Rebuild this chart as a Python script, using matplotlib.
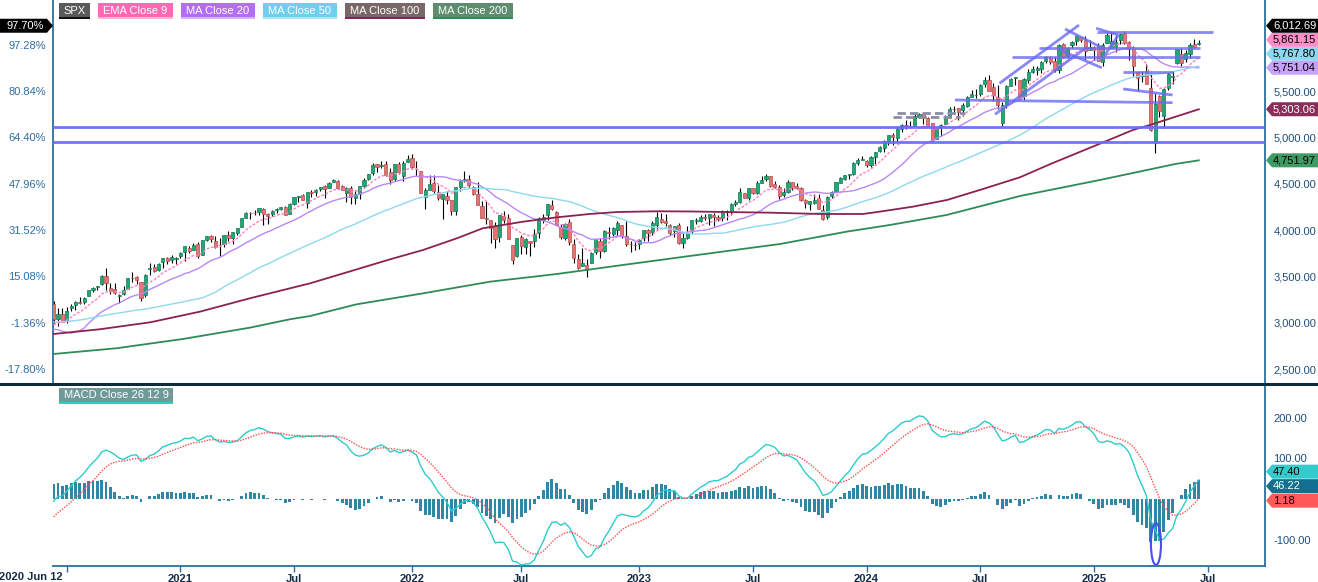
import numpy as np
import pandas as pd
import matplotlib
matplotlib.use('Agg')
from matplotlib import pyplot as plt
from matplotlib.patches import Polygon, Ellipse, Rectangle
from matplotlib.lines import Line2D

plt.rcParams['font.family'] = ['Liberation Sans', 'DejaVu Sans']

W, H = 1318, 582

# weekly closes before the first shown bar (Jun 2019 - Jun 5 2020), only used to seed the averages
pre_closes = [
    2873.3, 2887.0, 2950.5, 2941.8, 2990.4, 3013.8, 2976.6, 3025.9, 2932.1, 2918.7,
    2888.7, 2847.1, 2926.5, 2978.7, 3007.4, 2992.1, 2961.8, 2952.0, 2970.3, 2986.2,
    3022.6, 3066.9, 3093.1, 3120.5, 3110.3, 3141.0, 3145.9, 3168.8, 3221.2, 3240.0,
    3234.9, 3265.4, 3329.6, 3295.5, 3225.5, 3327.7, 3380.2, 3337.8, 2954.2, 2972.4,
    2711.0, 2304.9, 2541.5, 2488.7, 2789.8, 2874.6, 2836.7, 2830.7, 2929.8, 2863.7,
    2955.5, 3044.3, 3193.9,
]

# SPX weekly bars, week of 2020-06-12 to week of 2025-06-20
opens = [
    # 2020
    3199.9, 3038.8, 3094.4, 3018.6, 3155.3, 3191.8, 3224.3, 3219.8, 3288.3, 3356.0,
    3380.9, 3418.1, 3507.4, 3370.3, 3363.6, 3285.6, 3313.7, 3367.3, 3484.3, 3493.5,
    3441.4, 3296.2, 3583.0, 3600.2, 3566.8, 3653.8, 3694.7, 3675.3, 3684.3, 3723.0,
    # 2021
    3764.6, 3803.1, 3788.4, 3851.9, 3731.2, 3892.6, 3939.6, 3885.6, 3842.5, 3844.4,
    3949.6, 3916.5, 3969.3, 4034.4, 4130.1, 4183.2, 4185.1, 4191.9, 4228.3, 4169.9,
    4170.2, 4216.5, 4229.3, 4248.9, 4173.4, 4284.9, 4356.5, 4372.4, 4296.4, 4409.6,
    4406.9, 4438.2, 4472.9, 4450.3, 4513.8, 4532.4, 4474.8, 4402.9, 4449.4, 4348.8,
    4385.4, 4471.4, 4553.7, 4610.6, 4707.3, 4689.3, 4712.0, 4628.8, 4548.4, 4710.3,
    4587.9, 4733.9,
    # 2022
    4778.1, 4655.3, 4632.2, 4356.3, 4431.8, 4505.8, 4412.6, 4332.7, 4363.1, 4322.6,
    4202.8, 4462.4, 4541.1, 4547.0, 4462.6, 4385.6, 4255.3, 4130.6, 4108.4, 4041.6,
    3919.4, 4151.1, 4134.7, 3838.2, 3715.3, 3920.8, 3815.1, 3880.9, 3883.8, 3965.7,
    4112.4, 4158.2, 4269.4, 4195.1, 4034.6, 3909.4, 4083.7, 3849.9, 3682.7, 3609.8,
    3619.0, 3638.7, 3758.1, 3881.9, 3777.4, 3977.9, 3956.2, 4005.4, 4052.0, 3939.0,
    3853.8, 3843.3,
    # 2023
    3853.3, 3910.8, 3999.3, 3978.1, 4049.3, 4122.0, 4096.6, 4052.4, 3992.4, 4055.2,
    3855.8, 3917.5, 3986.4, 4102.2, 4098.0, 4137.2, 4134.2, 4166.8, 4136.0, 4126.7,
    4190.8, 4205.5, 4282.9, 4304.6, 4396.1, 4344.8, 4450.5, 4394.0, 4508.7, 4548.0,
    4584.8, 4491.6, 4459.4, 4380.3, 4415.2, 4518.4, 4473.3, 4453.5, 4326.0, 4284.5,
    4289.0, 4342.4, 4217.0, 4139.4, 4364.3, 4406.7, 4511.7, 4554.9, 4593.4, 4607.6,
    4725.6, 4758.9,
    # 2024
    4745.2, 4703.7, 4791.2, 4856.8, 4888.9, 4957.2, 5026.8, 4989.3, 5093.0, 5130.9,
    5117.9, 5123.0, 5219.5, 5257.2, 5211.4, 5149.7, 4987.3, 5114.1, 5142.4, 5221.1,
    5305.4, 5315.9, 5297.2, 5341.2, 5432.7, 5459.6, 5471.1, 5572.9, 5615.4, 5544.0,
    5433.7, 5151.1, 5351.0, 5557.2, 5637.0, 5623.9, 5442.1, 5615.2, 5703.4, 5726.5,
    5737.8, 5820.3, 5857.8, 5826.8, 5725.2, 6008.9, 5874.2, 5992.3, 6040.1, 6083.2,
    6049.0, 5940.3,
    # 2025
    5970.3, 5982.8, 5811.0, 6014.1, 5969.0, 5969.7, 6046.4, 6121.6, 6026.7, 5968.3,
    5705.4, 5658.0, 5718.1, 5527.9, 4953.8, 5441.0, 5232.9, 5534.5, 5655.3, 5807.0,
    5902.8, 5842.3, 5896.7, 6004.6, 6004.0,
]
highs = [
    # 2020
    3233.1, 3155.5, 3155.5, 3165.8, 3198.4, 3238.3, 3279.3, 3272.0, 3352.5, 3387.9,
    3399.9, 3509.2, 3588.1, 3425.6, 3428.9, 3306.9, 3397.2, 3482.3, 3549.9, 3502.4,
    3441.4, 3529.9, 3645.9, 3628.5, 3644.3, 3699.2, 3712.4, 3726.7, 3711.2, 3760.2,
    # 2021
    3826.7, 3823.6, 3861.5, 3870.9, 3894.6, 3937.2, 3950.4, 3933.0, 3914.5, 3944.0,
    3983.9, 3978.2, 4020.6, 4129.5, 4191.3, 4194.2, 4218.8, 4238.0, 4236.4, 4188.7,
    4213.4, 4234.1, 4249.7, 4261.7, 4286.1, 4355.4, 4372.0, 4393.7, 4415.2, 4429.2,
    4440.8, 4468.0, 4480.3, 4513.3, 4545.9, 4541.5, 4486.5, 4465.4, 4475.8, 4429.0,
    4475.8, 4559.7, 4608.1, 4718.5, 4714.9, 4743.8, 4744.1, 4672.9, 4713.6, 4731.4,
    4740.7, 4808.9,
    # 2022
    4818.6, 4748.8, 4632.2, 4453.2, 4595.3, 4590.0, 4489.6, 4385.7, 4416.8, 4325.6,
    4465.4, 4546.0, 4637.3, 4593.5, 4471.0, 4512.9, 4308.5, 4307.7, 4111.2, 4090.7,
    4158.5, 4204.3, 4168.8, 3838.2, 3913.7, 3945.9, 3918.5, 3880.9, 4012.4, 4140.2,
    4167.7, 4280.5, 4325.3, 4203.0, 4062.0, 4076.8, 4119.3, 3907.1, 3736.7, 3806.9,
    3685.4, 3762.8, 3905.4, 3911.8, 4001.5, 4028.8, 4034.0, 4100.5, 4052.5, 4100.9,
    3876.6, 3874.3,
    # 2023
    3906.2, 4003.0, 4015.4, 4094.2, 4195.4, 4182.2, 4171.8, 4062.9, 4048.3, 4078.5,
    3964.5, 4039.5, 4110.8, 4133.1, 4163.2, 4169.5, 4170.1, 4186.9, 4166.3, 4212.9,
    4212.2, 4290.7, 4322.6, 4448.5, 4400.2, 4458.5, 4456.5, 4527.6, 4578.4, 4607.1,
    4584.8, 4527.4, 4490.3, 4458.3, 4541.3, 4518.5, 4511.0, 4464.5, 4338.5, 4317.3,
    4385.5, 4393.6, 4268.0, 4366.2, 4418.0, 4520.1, 4568.4, 4598.5, 4609.2, 4738.6,
    4778.0, 4793.3,
    # 2024
    4754.3, 4798.5, 4842.1, 4906.7, 4975.3, 5030.1, 5048.4, 5111.1, 5140.3, 5189.3,
    5179.1, 5261.1, 5264.9, 5263.0, 5222.0, 5149.7, 5114.6, 5139.1, 5239.7, 5325.5,
    5341.9, 5315.9, 5375.1, 5447.3, 5505.5, 5523.6, 5570.3, 5655.6, 5669.7, 5585.2,
    5566.2, 5380.0, 5563.1, 5643.2, 5651.6, 5623.9, 5636.3, 5733.6, 5767.4, 5765.1,
    5822.1, 5878.5, 5878.2, 5862.8, 6012.5, 6017.3, 5972.9, 6044.2, 6099.0, 6085.2,
    6090.4, 6049.8,
    # 2025
    5980.5, 6021.0, 6014.8, 6128.2, 6120.9, 6101.3, 6127.5, 6147.4, 6043.6, 5986.1,
    5705.4, 5715.3, 5786.9, 5695.3, 5481.3, 5459.5, 5528.1, 5700.5, 5720.1, 5958.6,
    5968.6, 5944.0, 6016.9, 6059.4, 6050.8,
]
lows = [
    # 2020
    2999.5, 2965.7, 3004.6, 3000.5, 3127.7, 3142.0, 3202.3, 3200.0, 3284.5, 3329.3,
    3354.7, 3410.0, 3349.6, 3310.0, 3313.6, 3209.5, 3297.1, 3361.0, 3440.5, 3419.9,
    3233.9, 3279.7, 3511.9, 3543.8, 3554.0, 3594.4, 3633.4, 3645.8, 3636.5, 3695.1,
    # 2021
    3662.7, 3749.6, 3784.9, 3694.1, 3725.6, 3884.9, 3865.7, 3805.6, 3723.3, 3819.3,
    3885.9, 3853.5, 3944.4, 4034.4, 4124.4, 4118.4, 4164.7, 4160.9, 4056.9, 4061.4,
    4156.2, 4188.0, 4220.3, 4164.4, 4173.4, 4271.0, 4300.3, 4321.1, 4233.1, 4360.0,
    4367.7, 4420.2, 4347.5, 4450.3, 4513.0, 4457.6, 4428.3, 4305.9, 4279.3, 4278.9,
    4329.6, 4456.8, 4537.4, 4595.1, 4630.9, 4672.0, 4585.4, 4495.1, 4531.1, 4600.2,
    4531.1, 4733.9,
    # 2022
    4662.7, 4582.2, 4395.3, 4222.6, 4431.8, 4401.4, 4327.2, 4114.7, 4279.5, 4157.9,
    4161.7, 4424.3, 4517.7, 4450.3, 4381.3, 4267.6, 4128.7, 4062.5, 3858.9, 3810.3,
    3875.1, 4074.4, 3900.2, 3636.9, 3705.7, 3738.7, 3742.1, 3721.6, 3818.6, 3910.7,
    4079.8, 4112.1, 4218.7, 4057.7, 3906.2, 3886.8, 3837.1, 3647.5, 3584.1, 3609.8,
    3491.6, 3638.7, 3737.5, 3698.2, 3764.5, 3906.5, 3930.0, 3940.1, 3918.4, 3827.1,
    3764.5, 3783.0,
    # 2023
    3794.3, 3877.3, 3885.5, 3949.1, 4015.6, 4079.0, 4047.5, 3943.0, 3928.2, 3846.3,
    3808.9, 3901.9, 3951.5, 4069.8, 4086.9, 4113.2, 4049.4, 4048.3, 4098.7, 4099.4,
    4103.9, 4166.2, 4261.1, 4290.6, 4341.1, 4328.1, 4385.1, 4389.9, 4504.1, 4527.6,
    4463.6, 4458.3, 4335.3, 4356.3, 4403.4, 4432.0, 4446.4, 4316.5, 4238.6, 4216.5,
    4283.8, 4223.0, 4103.8, 4116.5, 4347.0, 4406.0, 4507.1, 4537.2, 4546.5, 4597.4,
    4699.4, 4751.0,
    # 2024
    4682.1, 4682.1, 4714.8, 4844.1, 4845.2, 4918.1, 4920.3, 4946.0, 5056.8, 5094.6,
    5104.4, 5117.5, 5203.4, 5146.1, 5107.9, 4953.6, 4987.3, 5011.1, 5142.4, 5211.2,
    5256.9, 5191.7, 5234.3, 5331.0, 5432.4, 5420.6, 5446.3, 5540.9, 5497.0, 5390.9,
    5305.2, 5119.3, 5318.3, 5553.5, 5560.3, 5402.6, 5406.9, 5581.2, 5698.7, 5674.0,
    5696.3, 5804.3, 5796.7, 5702.8, 5696.5, 5853.0, 5853.0, 5963.9, 6000.0, 6026.0,
    5832.3, 5940.3,
    # 2025
    5829.5, 5825.3, 5773.3, 6014.1, 5962.9, 5923.9, 6003.0, 6008.6, 5837.7, 5666.3,
    5504.7, 5597.8, 5572.4, 5069.9, 4835.0, 5220.8, 5101.6, 5506.8, 5578.6, 5786.1,
    5767.4, 5809.8, 5861.4, 5963.2, 5995.0,
]
closes = [
    # 2020
    3041.31, 3097.7, 3009.1, 3130.0, 3185.0, 3224.7, 3215.6, 3271.1, 3351.3, 3372.9,
    3397.2, 3508.0, 3427.0, 3341.0, 3319.5, 3298.5, 3348.4, 3477.1, 3483.8, 3465.4,
    3270.0, 3509.4, 3585.2, 3557.5, 3638.4, 3699.1, 3663.5, 3709.4, 3703.1, 3756.1,
    # 2021
    3824.7, 3768.3, 3841.5, 3714.2, 3886.8, 3934.8, 3906.7, 3811.2, 3841.9, 3943.3,
    3913.1, 3974.5, 4019.9, 4128.8, 4185.5, 4180.2, 4181.2, 4232.6, 4173.9, 4155.9,
    4204.1, 4229.9, 4247.4, 4166.5, 4280.7, 4352.3, 4369.6, 4327.2, 4411.8, 4395.3,
    4436.5, 4468.0, 4441.7, 4509.4, 4535.4, 4458.6, 4433.0, 4455.5, 4357.0, 4391.3,
    4471.4, 4544.9, 4605.4, 4697.5, 4682.9, 4698.0, 4594.6, 4538.4, 4712.0, 4620.6,
    4725.8, 4766.2,
    # 2022
    4677.0, 4662.9, 4397.9, 4431.9, 4500.5, 4418.6, 4348.9, 4384.7, 4328.9, 4204.3,
    4463.1, 4543.1, 4545.9, 4488.3, 4392.6, 4271.8, 4131.9, 4123.3, 4023.9, 3901.4,
    4158.2, 4108.5, 3900.9, 3674.8, 3911.7, 3825.3, 3899.4, 3863.2, 3961.6, 4130.3,
    4145.2, 4280.2, 4228.5, 4057.7, 3924.3, 4067.4, 3873.3, 3693.2, 3585.6, 3639.7,
    3583.1, 3752.8, 3901.1, 3770.6, 3992.9, 3965.3, 4026.1, 4071.7, 3934.4, 3852.4,
    3844.8, 3839.5,
    # 2023
    3895.1, 3999.1, 3972.6, 4070.6, 4136.5, 4090.5, 4079.1, 3970.0, 4045.6, 3861.6,
    3916.6, 3971.0, 4109.3, 4105.0, 4137.6, 4133.5, 4169.5, 4136.3, 4124.1, 4192.0,
    4205.5, 4282.4, 4298.9, 4409.6, 4348.3, 4450.4, 4399.0, 4505.4, 4536.3, 4582.2,
    4478.0, 4464.1, 4369.7, 4405.7, 4515.8, 4457.5, 4450.3, 4320.1, 4288.1, 4308.5,
    4327.8, 4224.2, 4117.4, 4358.3, 4415.2, 4514.0, 4559.3, 4594.6, 4604.4, 4719.2,
    4754.6, 4769.8,
    # 2024
    4697.2, 4783.8, 4839.8, 4891.0, 4958.6, 5026.6, 5005.6, 5088.8, 5137.1, 5123.7,
    5117.1, 5234.2, 5254.4, 5204.3, 5123.4, 4967.2, 5100.0, 5127.8, 5222.7, 5303.3,
    5304.7, 5277.5, 5347.0, 5431.6, 5464.6, 5460.5, 5567.2, 5615.4, 5505.0, 5459.1,
    5346.6, 5344.2, 5554.3, 5634.6, 5648.4, 5408.4, 5626.0, 5702.6, 5738.2, 5751.1,
    5815.0, 5864.7, 5808.1, 5728.8, 5995.5, 5870.6, 5969.3, 6032.4, 6090.3, 6051.1,
    5930.9, 5970.8,
    # 2025
    5942.5, 5827.0, 5996.7, 6101.2, 6040.5, 6026.0, 6114.6, 6013.1, 5954.5, 5770.2,
    5638.9, 5667.6, 5580.9, 5074.1, 5363.4, 5282.7, 5525.2, 5686.7, 5659.9, 5958.4,
    5802.8, 5911.7, 6000.4, 5977.0, 6012.69,
]

# long averages (bar number, price)
ma100_bar = [0, 10.6, 22.1, 33.5, 44.9, 58.7, 69.4, 77.0, 84.5, 92.3, 98.2, 107.4, 115.2,
             122.7, 128.9, 138.0, 145.6, 163.9, 175.3, 185.2, 189.0, 196.6, 204.4, 211.9,
             221.1, 227.9, 239.4, 246.9, 250.8, 262]
ma100_val = [2878, 2929, 3004, 3119, 3263, 3425, 3576, 3684, 3784, 3911, 4019, 4090, 4137,
             4173, 4194, 4202, 4200, 4187, 4173, 4173, 4198, 4252, 4324, 4432,
             4569, 4709, 4932, 5079, 5133, 5303.06]
ma200_bar = [0, 14.4, 29.6, 44.9, 54.1, 58.7, 69.3, 84.6, 99.8, 115.1, 130.3, 145.6, 166.2,
             181.4, 191.3, 204.3, 221.1, 239.4, 256.6, 262]
ma200_val = [2662, 2724, 2824, 2946, 3037, 3072, 3198, 3317, 3442, 3525, 3623, 3720, 3849,
             3982, 4054, 4162, 4367, 4540, 4712, 4751.97]

# drawn support / resistance levels and trend lines (bar number, price)
levels = [5114.8, 4952.9]
seg_x0 = [216.4, 215.4, 231.4, 230.2, 238.5, 240.5, 238.6, 225.5, 219.3, 244.7, 244.7, 206.2]
seg_y0 = [5583, 5249, 6169, 5942, 6177, 5888, 6140, 5961, 5870, 5708, 5522, 5403]
seg_x1 = [234.6, 236.4, 240.1, 239.8, 243.6, 243.6, 265.2, 262.3, 262.3, 256.1, 256.0, 256.0]
seg_y1 = [6212, 5972, 5961, 5751, 6104, 6104, 6140, 5961, 5870, 5708, 5457, 5374]
dash_x0 = [192.0, 192.9]
dash_x1 = [207.4, 208.5]
dash_y = [5222.7, 5265.8]
circle_bar, circle_val = 252.2, -110.6

n = len(closes)
x = np.arange(n)
dates = pd.date_range('2020-06-12', periods=n + 3, freq='W-FRI')

allc = pd.Series(pre_closes + closes)
npre = len(pre_closes)
ema9 = allc.ewm(span=9, adjust=False).mean().values[npre:]
ma20 = allc.rolling(20).mean().values[npre:]
ma50 = allc.rolling(50).mean().values[npre:]
macd_s = allc.ewm(span=12, adjust=False).mean() - allc.ewm(span=26, adjust=False).mean()
sig_s = macd_s.ewm(span=9, adjust=False).mean()
macd = macd_s.values[npre:]
signal = sig_s.values[npre:]
hist = macd - signal

o = np.array(opens)
c = np.array(closes)
hi = np.array(highs)
lo = np.array(lows)
up = c >= o


def fx(px):
    return px / W


def fy(py):
    return 1 - py / H


fig = plt.figure(figsize=(W / 100, H / 100), dpi=100)
ax = fig.add_axes([fx(53), fy(383), (1265 - 53) / W, 383 / H])
axl = ax.twinx()
axm = fig.add_axes([fx(53), fy(566), (1265 - 53) / W, (566 - 385) / H])
xlim = ((53 - 53.6) / 4.371, (1265 - 53.6) / 4.371)
axis_col = '#2c6f9c'

# ---- price panel
ax.vlines(x, lo, hi, color='black', lw=0.8, zorder=3)
body = np.maximum(np.abs(c - o), 1.0)
ax.bar(x[up], body[up], bottom=np.minimum(o, c)[up], width=0.72,
       color='#1fa774', edgecolor='#137a52', lw=0.5, zorder=4)
ax.bar(x[~up], body[~up], bottom=np.minimum(o, c)[~up], width=0.72,
       color='#e37474', edgecolor='#b84d4d', lw=0.5, zorder=4)

ax.plot(x, ema9, color='#ff80c0', lw=1.0, ls=(0, (2, 1.2)), zorder=5)
ax.plot(x, ma20, color='#b987f7', lw=1.0, zorder=5)
ax.plot(x, ma50, color='#8ed8f0', lw=1.0, zorder=5)
ax.plot(ma100_bar, ma100_val, color='#8b2252', lw=1.3, zorder=5)
ax.plot(ma200_bar, ma200_val, color='#2e8b57', lw=1.3, zorder=5)

for lv in levels:
    ax.axhline(lv, color='#6b6bf5', lw=2.0, alpha=0.95, zorder=6)
for a, b, cc, d in zip(seg_x0, seg_y0, seg_x1, seg_y1):
    ax.plot([a, cc], [b, d], color='#6b6bf5', lw=2.0, alpha=0.8, zorder=6,
            solid_capstyle='butt')
for a, b, yy in zip(dash_x0, dash_x1, dash_y):
    ax.plot([a, b], [yy, yy], color='#8c8ca8', lw=2.0, ls=(0, (3, 1.5)), zorder=6)

ax.set_xlim(xlim)
ax.set_ylim(2349, 6482)
ax.set_xticks([])
ax.yaxis.tick_right()
ax.set_yticks([2500, 3000, 3500, 4000, 4500, 5000, 5500])
ax.set_yticklabels([f'{v:,.2f}' for v in ax.get_yticks()])
ax.tick_params(axis='y', length=0, pad=6, labelsize=8, labelcolor='#1d4f7c')
for s in ['top', 'bottom']:
    ax.spines[s].set_visible(False)
for s in ['left', 'right']:
    ax.spines[s].set_color(axis_col)
    ax.spines[s].set_linewidth(1.3)

base = closes[0]
axl.set_ylim(ax.get_ylim())
axl.yaxis.tick_left()
pct_ticks = [2500, 3000, 3500, 4000, 4500, 5000, 5500, 6000]
axl.set_yticks(pct_ticks)
axl.set_yticklabels([f'{(v / base - 1) * 100:.2f}%' for v in pct_ticks])
axl.tick_params(axis='y', length=0, pad=5, labelsize=8, labelcolor='#2e6da4')
for s in axl.spines.values():
    s.set_visible(False)

# ---- MACD panel
axm.bar(x, hist, width=0.65, color='#2f87a4', zorder=3)
axm.plot(x, macd, color='#2ecbcb', lw=1.0, zorder=4)
axm.plot(x, signal, color='#ff4d4d', lw=1.0, ls=(0, (1, 1)), zorder=4)
axm.add_patch(Ellipse((circle_bar, circle_val), 2.3, 103, fill=False,
                      ec='#4d4df2', lw=1.5, zorder=6, clip_on=False))
axm.set_xlim(xlim)
axm.set_ylim(-164.7, 280.3)
axm.yaxis.tick_right()
axm.set_yticks([-100, 100, 200])
axm.set_yticklabels([f'{v:.2f}' for v in [-100, 100, 200]])
axm.tick_params(axis='y', length=0, pad=6, labelsize=8, labelcolor='#1d4f7c')

tick_pos, tick_lab = [], []
for i in range(1, len(dates)):
    if dates[i].month != dates[i - 1].month and dates[i].month in (1, 7):
        tick_pos.append(i)
        tick_lab.append(str(dates[i].year) if dates[i].month == 1 else 'Jul')
tick_lab[0] = ''
axm.set_xticks(tick_pos)
axm.set_xticklabels(tick_lab, fontweight='bold')
axm.tick_params(axis='x', length=4, width=1, color=axis_col, pad=2,
                labelsize=8, labelcolor='#142c46')
fig.text(fx(63), fy(572), dates[0].strftime('%Y %b ') + str(dates[0].day), ha='right', va='top',
         fontsize=8, fontweight='bold', color='#142c46')
for s in ['top', 'left']:
    axm.spines[s].set_visible(False)
for s in ['bottom', 'right']:
    axm.spines[s].set_color(axis_col)
    axm.spines[s].set_linewidth(1.3)

fig.add_artist(Line2D([0, 1], [fy(384), fy(384)], transform=fig.transFigure,
                      color='#0e2c3c', lw=2.2))

# ---- legend boxes
legend = [('SPX', 59, 90, '#5a5a5a', '#111111'),
          ('EMA Close 9', 98, 173, '#ff69b4', '#ffb6d9'),
          ('MA Close 20', 181, 255, '#b46ef5', '#d6b4ff'),
          ('MA Close 50', 263, 337, '#6fd0ee', '#a8e6f5'),
          ('MA Close 100', 345, 425, '#7a6868', '#8b2252'),
          ('MA Close 200', 433, 513, '#5e8c6e', '#2e8b57'),
          ('MACD Close 26 12 9', 59, 173, '#6f9a98', '#33cccc')]
for k, (txt, x0, x1, fc, uc) in enumerate(legend):
    top = 3 if k < 6 else 388
    fig.add_artist(Rectangle((fx(x0), fy(top + 14)), (x1 - x0) / W, 14 / H,
                             transform=fig.transFigure, fc=fc, ec='none', zorder=8))
    fig.add_artist(Rectangle((fx(x0), fy(top + 16)), (x1 - x0) / W, 2 / H,
                             transform=fig.transFigure, fc=uc, ec='none', zorder=8))
    fig.text(fx((x0 + x1) / 2), fy(top + 7.5), txt, ha='center', va='center',
             fontsize=8, color='white', zorder=9)


# ---- value tags
def to_px(axis, v):
    return H - axis.transData.transform((0, v))[1]


def tag(ypx, text, bg, fg, left=False):
    h = 14
    if left:
        pts = [(53, ypx), (47, ypx - h / 2), (0, ypx - h / 2), (0, ypx + h / 2), (47, ypx + h / 2)]
        tx, ha = 25, 'center'
    else:
        pts = [(1266, ypx), (1272, ypx - h / 2), (W, ypx - h / 2), (W, ypx + h / 2), (1272, ypx + h / 2)]
        tx, ha = 1273, 'left'
    fig.add_artist(Polygon([(fx(a), fy(b)) for a, b in pts], closed=True,
                           transform=fig.transFigure, fc=bg, ec='none', zorder=10))
    fig.text(fx(tx), fy(ypx), text, ha=ha, va='center', fontsize=8, color=fg, zorder=11)


def stack_up(items, axis):
    # lowest tag stays put, the others are pushed upward
    items = sorted(items, key=lambda t: t[0])
    prev = None
    out = []
    for it in items:
        y = to_px(axis, it[0])
        if prev is not None:
            y = min(y, prev - 14)
        prev = y
        out.append((y,) + it)
    return out


def stack_centered(items, axis, gap=14.5):
    # overlapping tags are spread evenly around their mean position
    items = sorted(items, key=lambda t: -t[0])
    groups = [[to_px(axis, it[0])] for it in items]
    changed = True
    while changed:
        changed = False
        for g in range(len(groups) - 1):
            a, b = groups[g], groups[g + 1]
            ca = np.mean(a) + (len(a) - 1) * gap / 2
            cb = np.mean(b) - (len(b) - 1) * gap / 2
            if cb - ca < gap:
                groups[g] = a + b
                del groups[g + 1]
                changed = True
                break
    ys = []
    for g in groups:
        m = np.mean(g)
        ys += [m + (k - (len(g) - 1) / 2) * gap for k in range(len(g))]
    return [(y,) + it for y, it in zip(ys, items)]


main_tags = [(c[-1], '#000000', 'white'),
             (ema9[-1], '#ff8cc6', 'black'),
             (ma50[-1], '#8fd8f2', 'black'),
             (ma20[-1], '#c7a2f7', 'black'),
             (ma100_val[-1], '#8b2d56', 'white'),
             (ma200_val[-1], '#3f9b63', 'black')]
for y, v, bg, fg in stack_up(main_tags, ax):
    tag(y, f'{v:,.2f}', bg, fg)
    if v == c[-1]:
        tag(y, f'{(v / base - 1) * 100:.2f}%', bg, fg, left=True)

macd_tags = [(macd[-1], '#33cccc', 'black'),
             (hist[-1], '#12708f', 'white'),
             (signal[-1], '#ff5a5a', 'black')]
for y, v, bg, fg in stack_centered(macd_tags, axm):
    tag(y, f'{v:.2f}', bg, fg)

fig.savefig('out.png', dpi=100)
